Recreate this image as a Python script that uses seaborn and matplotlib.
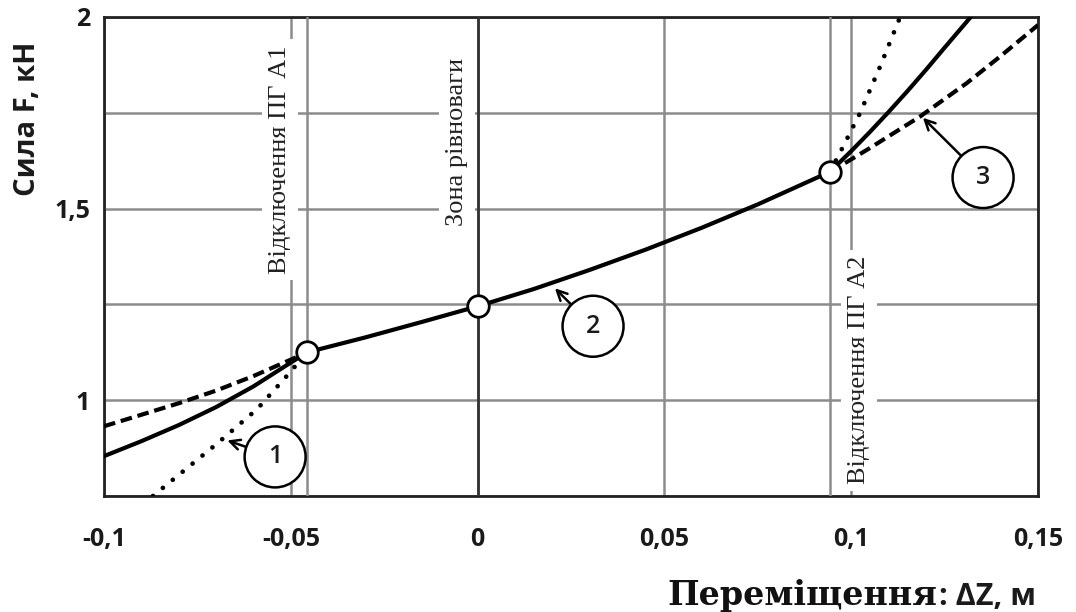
import matplotlib
matplotlib.use("Agg")
import matplotlib.pyplot as plt
import seaborn as sns

# curve 2 (solid): full characteristic
x_solid = [-0.100, -0.090, -0.080, -0.070, -0.060, -0.0502, -0.0456, -0.030, -0.015, 0.000,
           0.015, 0.030, 0.045, 0.060, 0.075, 0.0943, 0.100, 0.105, 0.110, 0.115, 0.120,
           0.125, 0.132]
f_solid = [0.854, 0.893, 0.935, 0.982, 1.036, 1.097, 1.125, 1.164, 1.204, 1.245,
           1.290, 1.340, 1.393, 1.450, 1.511, 1.596, 1.650, 1.700, 1.752, 1.806, 1.862,
           1.920, 2.000]

# dashed branches
x_dash_left = [-0.100, -0.090, -0.080, -0.070, -0.060, -0.0502, -0.0456]
f_dash_left = [0.932, 0.962, 0.992, 1.025, 1.063, 1.105, 1.125]
x_dash_right = [0.0943, 0.0989, 0.105, 0.1184, 0.131, 0.140, 0.150]
f_dash_right = [1.596, 1.622, 1.658, 1.740, 1.828, 1.898, 1.979]

# dotted branches
x_dot_left = [-0.0869, -0.080, -0.0697, -0.059, -0.051, -0.0456]
f_dot_left = [0.750, 0.805, 0.887, 0.977, 1.064, 1.125]
x_dot_right = [0.0943, 0.097, 0.1024, 0.1077, 0.1131]
f_dot_right = [1.596, 1.646, 1.750, 1.870, 2.000]

# switching points (open circles)
x_points = [-0.0456, 0.0, 0.0943]
f_points = [1.125, 1.245, 1.596]

x_ticks = [-0.1, -0.05, 0.0, 0.05, 0.1, 0.15]
x_tick_labels = ['-0,1', '-0,05', '0', '0,05', '0,1', '0,15']
y_ticks = [1.0, 1.5, 2.0]
y_tick_labels = ['1', '1,5', '2']
y_minor = [0.75, 1.25, 1.75]

# callouts: label, arrow target, circle centre
callouts = [
    ('1', (-0.0670, 0.895), (-0.0542, 0.852)),
    ('2', (0.0207, 1.292), (0.0309, 1.193)),
    ('3', (0.1192, 1.737), (0.1353, 1.581)),
]

# vertical annotations
notes = [
    ('Відключення ПГ А1', -0.0529, 1.628),
    ('Зона рівноваги', -0.0055, 1.674),
    ('Відключення ПГ А2', 0.1021, 1.078),
]

sns.set_theme(style="white")
plt.rcParams['font.family'] = ['Open Sans', 'DejaVu Sans']

fig = plt.figure(figsize=(10.76, 6.12), dpi=100)
ax = fig.add_axes([104 / 1076, 116 / 612, 934 / 1076, 479 / 612])

grid_c = '#8c8c8c'
ax.set_xlim(-0.1, 0.15)
ax.set_ylim(0.75, 2.0)
ax.set_xticks(x_ticks)
ax.set_xticklabels(x_tick_labels)
ax.set_yticks(y_ticks)
ax.set_yticklabels(y_tick_labels)
ax.set_yticks(y_minor, minor=True)
ax.set_axisbelow(True)
ax.grid(True, which='both', color=grid_c, lw=1.8)
ax.tick_params(axis='both', which='both', length=0, labelsize=18, labelcolor='#1a1a1a')
ax.tick_params(axis='x', pad=22)
ax.tick_params(axis='y', pad=10)
for lab in ax.get_xticklabels() + ax.get_yticklabels():
    lab.set_fontweight('bold')
for sp in ax.spines.values():
    sp.set_color('#222222')
    sp.set_linewidth(2)

# vertical notes with white background (cut the grid)
for txt, tx, ty in notes:
    ax.text(tx, ty, txt, rotation=90, ha='center', va='center', fontsize=19,
            family='Liberation Serif', color='#222222', zorder=2,
            bbox=dict(boxstyle='square,pad=0.25', fc='white', ec='none'))

# zero line and switching lines
ax.axvline(0.0, color='#333333', lw=2, zorder=3)
ax.axvline(x_points[0], color=grid_c, lw=1.8, zorder=3)
ax.axvline(x_points[2], color=grid_c, lw=1.8, zorder=3)

sns.lineplot(x=x_dot_left, y=f_dot_left, ax=ax, color='black', lw=3.4, sort=False,
             linestyle=(0, (0.01, 2.7)), dash_capstyle='round', zorder=4)
sns.lineplot(x=x_dot_right, y=f_dot_right, ax=ax, color='black', lw=3.4, sort=False,
             linestyle=(0, (0.01, 2.7)), dash_capstyle='round', zorder=4)
sns.lineplot(x=x_dash_left, y=f_dash_left, ax=ax, color='black', lw=3, sort=False,
             linestyle=(0, (2.8, 1.4)), zorder=4)
sns.lineplot(x=x_dash_right, y=f_dash_right, ax=ax, color='black', lw=3, sort=False,
             linestyle=(0, (2.8, 1.4)), zorder=4)
sns.lineplot(x=x_solid, y=f_solid, ax=ax, color='black', lw=3, sort=False, zorder=5)
sns.scatterplot(x=x_points, y=f_points, ax=ax, s=240, color='white',
                edgecolor='black', linewidth=2, zorder=6)

for lab, tgt, ctr in callouts:
    ax.annotate(lab, xy=tgt, xytext=ctr, ha='center', va='center', fontsize=18,
                fontweight='semibold', color='#1a1a1a', zorder=7,
                bbox=dict(boxstyle='circle,pad=0.72', fc='white', ec='black', lw=1.8),
                arrowprops=dict(arrowstyle='->', color='black', lw=1.8,
                                shrinkA=0, shrinkB=0, mutation_scale=18))

fig.text(28 / 1076, 1 - 119 / 612, 'Сила F, кН', rotation=90, ha='center', va='center',
         fontsize=21, fontweight='bold', color='#1a1a1a')
fig.text(937 / 1076, 1 - 605 / 612, 'Переміщення', ha='right', va='baseline',
         family='DejaVu Serif', fontweight='bold', fontsize=24, color='#111111')
fig.text(939 / 1076, 1 - 605 / 612, ': ΔZ, м', ha='left', va='baseline',
         fontsize=22, fontweight='bold', color='#1a1a1a')

fig.savefig('out.png', dpi=100)
